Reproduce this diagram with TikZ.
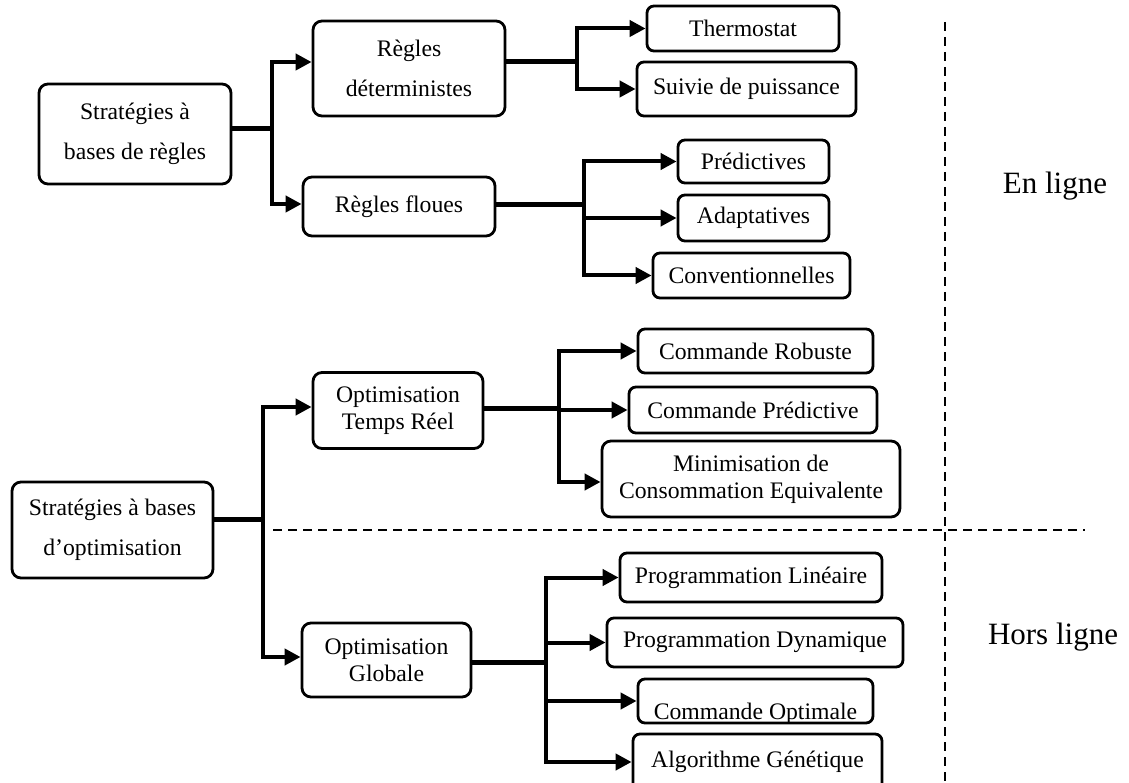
\documentclass[tikz,border=0pt]{standalone}
\usepackage{fontspec}
\setmainfont{Liberation Serif}
\usetikzlibrary{arrows.meta}
\begin{document}
\begin{tikzpicture}[x=1pt,y=-1pt,
  box/.style={draw, line width=2.8pt, rounded corners=9pt, inner sep=0pt, align=center,
              font=\fontsize{23.7}{27}\selectfont},
  wide/.style={font=\fontsize{23.7}{40}\selectfont},
  stem/.style={line width=5pt},
  branch/.style={line width=4pt, -{Triangle[length=16pt,width=16pt]}},
  sep/.style={dash pattern=on 9pt off 6pt, line width=2pt},
  side/.style={font=\fontsize{31}{36}\selectfont}]
\clip (0,0) rectangle (1129,783);

% ---- nodes: rule based
\node[box, wide, minimum width=192pt, minimum height=100pt] (s1) at (135,134) {Stratégies à\\bases de règles};
\node[box, wide, minimum width=192pt, minimum height=95pt] (rd) at (409,68.5) {Règles\\déterministes};
\node[box, minimum width=192pt, minimum height=59pt] (rf) at (399,206.5) {Règles floues};
\node[box, rounded corners=7pt, minimum width=192pt, minimum height=45pt] (th) at (743,28.5) {Thermostat};
\node[box, rounded corners=7pt, minimum width=219pt, minimum height=54pt] (sp) at (746.5,89) {Suivie de puissance};
\node[box, rounded corners=7pt, minimum width=151pt, minimum height=43pt] (pr) at (753.5,161.5) {Prédictives};
\node[box, rounded corners=7pt, minimum width=151pt, minimum height=46pt] (ad) at (753.5,218) {Adaptatives};
\node[box, rounded corners=7pt, minimum width=197pt, minimum height=45pt] (cv) at (751.5,275.5) {Conventionnelles};

% ---- nodes: optimisation based
\node[box, wide, minimum width=201pt, minimum height=96pt] (s2) at (112.5,530) {Stratégies à bases\\d’optimisation};
\node[box, minimum width=170pt, minimum height=76pt] (otr) at (398,410.5) {Optimisation\\Temps Réel};
\node[box, minimum width=169pt, minimum height=74pt] (og) at (386.5,660) {Optimisation\\Globale};
\node[box, rounded corners=7pt, minimum width=235pt, minimum height=44pt] (cr) at (755.5,351) {Commande Robuste};
\node[box, rounded corners=7pt, minimum width=248pt, minimum height=46pt] (cp) at (753,410) {Commande Prédictive};
\node[box, minimum width=298pt, minimum height=76pt] (mce) at (751,479) {Minimisation de\\Consommation Equivalente};
\node[box, rounded corners=7pt, minimum width=262pt, minimum height=49pt] (pl) at (751,577.5) {Programmation Linéaire};
\node[box, rounded corners=7pt, minimum width=296pt, minimum height=49pt] (pd) at (755,642.5) {Programmation Dynamique};
\node[box, rounded corners=7pt, minimum width=235pt, minimum height=44pt,
      path picture={\node[anchor=base, inner sep=0pt, font=\fontsize{23.7}{27}\selectfont]
        at ([yshift=-18pt]path picture bounding box.center) {Commande Optimale};}] (co) at (755.5,701) {};
\node[box, rounded corners=7pt, minimum width=249pt, minimum height=56pt] (ag) at (757.5,762) {Algorithme Génétique};

% ---- labels
\node[side] (enligne) at (1055,186) {En ligne};
\node[side] (horsligne) at (1053,637) {Hors ligne};

% ---- junctions
\coordinate (j1) at (272,129);
\coordinate (j2) at (577,62);
\coordinate (j3) at (584,205);
\coordinate (j4) at (263,519);
\coordinate (j5) at (559,408);
\coordinate (j6) at (546,662);

% ---- connectors
\draw[stem] (s1.east |- j1) -- (j1);
\draw[branch] (j1) |- ([yshift=6.5pt]rd.west);
\draw[branch] (j1) |- ([yshift=2.5pt]rf.west);

\draw[stem] (rd.east |- j2) -- (j2);
\draw[branch] (j2) |- (th.west);
\draw[branch] (j2) |- (sp.west);

\draw[stem] (rf.east |- j3) -- (j3);
\draw[branch] (j3) |- (pr.west);
\draw[branch] (j3) |- (ad.west);
\draw[branch] (j3) |- (cv.west);

\draw[stem] (s2.east |- j4) -- (j4);
\draw[branch] (j4) |- ([yshift=3.5pt]otr.west);
\draw[branch] (j4) |- ([yshift=3pt]og.west);

\draw[stem] (otr.east |- j5) -- (j5);
\draw[branch] (j5) |- (cr.west);
\draw[branch] (j5) |- (cp.west);
\draw[branch] (j5) |- ([yshift=-3pt]mce.west);

\draw[stem] (og.east |- j6) -- (j6);
\draw[branch] (j6) |- (pl.west);
\draw[branch] (j6) |- (pd.west);
\draw[branch] (j6) |- (co.west);
\draw[branch] (j6) |- (ag.west);

% ---- separators
\coordinate (hl) at (273,530);
\coordinate (hr) at (1085,530);
\coordinate (vt) at (945,22);
\coordinate (vb) at (945,783);
\draw[sep] (hl) -- (hr);
\draw[sep] (vt) -- (vb);
\end{tikzpicture}
\end{document}
